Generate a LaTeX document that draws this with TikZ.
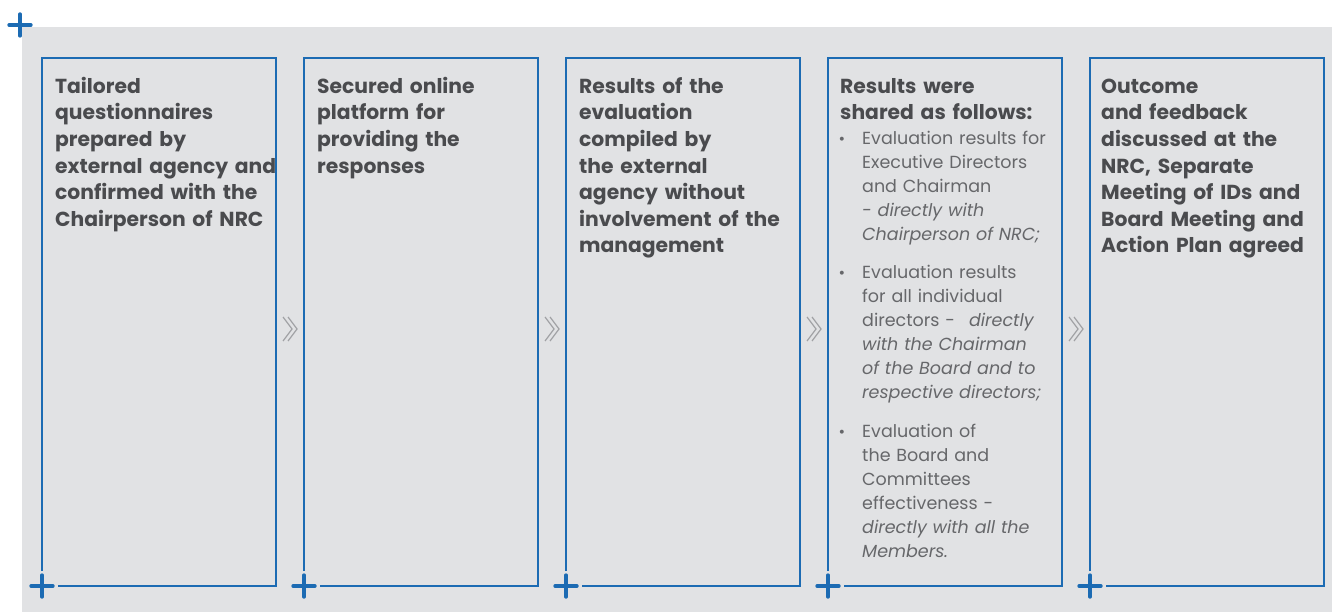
\documentclass[tikz,border=0pt]{standalone}
\usepackage{fontspec}
\setmainfont{Poppins}
\usetikzlibrary{calc}
\definecolor{bggray}{HTML}{E1E2E4}
\definecolor{bblue}{HTML}{1C6BB3}
\definecolor{headtext}{HTML}{4A4B4E}
\definecolor{bodytext}{HTML}{66676A}
\definecolor{chevgray}{HTML}{A0A1A4}
\tikzset{
  panel/.style={minimum width=234pt, minimum height=528pt, inner sep=0pt, outer sep=0pt},
  border/.style={bblue, line width=1.4pt},
  plusmark/.style={bblue, line width=3.8pt, line cap=round},
  chevline/.style={chevgray, line width=1.2pt},
  headtxt/.style={anchor=base west, inner sep=0pt, text width=240pt, align=left,
    text=headtext, font=\fontsize{20.3}{26.6}\selectfont\bfseries},
  bodytxt/.style={anchor=base west, inner sep=0pt, text width=200pt, align=left,
    text=bodytext, font=\fontsize{17.5}{24}\selectfont},
  bullettxt/.style={anchor=base, inner sep=0pt, text=bodytext, font=\fontsize{16}{24}\selectfont}
}
\begin{document}
\begin{tikzpicture}[x=1pt,y=-1pt]
\useasboundingbox (0,0) rectangle (1332,612);
\fill[bggray] (22,27) rectangle (1332,612);
% top-left plus
\coordinate (tl) at (20,25);
\draw[plusmark] ([xshift=-10.8pt]tl) -- ([xshift=10.8pt]tl) ([yshift=-10.8pt]tl) -- ([yshift=10.8pt]tl);
% panels
\foreach \i/\x in {1/159,2/421,3/683,4/945,5/1207}{
  \node[panel] (b\i) at (\x,322) {};
  \draw[border] ([yshift=15pt]b\i.south west) -- (b\i.north west) -- (b\i.north east)
     -- (b\i.south east) -- ([xshift=16pt]b\i.south west);
  \draw[plusmark] ([xshift=-10.8pt]b\i.south west) -- ([xshift=10.8pt]b\i.south west)
     ([yshift=-10.8pt]b\i.south west) -- ([yshift=10.8pt]b\i.south west);
}
% chevrons
\foreach \a/\b in {1/2,2/3,3/4,4/5}{
  \coordinate (c\a) at ($(b\a.east)!0.5!(b\b.west)+(0,7)$);
  \draw[chevline] ([xshift=-7pt,yshift=12pt]c\a) -- ([xshift=2pt]c\a) -- ([xshift=-7pt,yshift=-12pt]c\a);
  \draw[chevline] ([xshift=-2pt,yshift=12pt]c\a) -- ([xshift=7pt]c\a) -- ([xshift=-2pt,yshift=-12pt]c\a);
}
% texts
\node[headtxt] (t1) at (55,93.3) {Tailored\\questionnaires\\prepared by\\external agency and\\confirmed with the\\Chairperson of NRC};
\node[headtxt] (t2) at (317,93.3) {Secured online\\platform for\\providing the\\responses};
\node[headtxt] (t3) at (579,93.3) {Results of the\\evaluation\\compiled by\\the external\\agency without\\involvement of the\\management};
\node[headtxt] (t4) at (840,93.3) {Results were\\shared as follows:};
\node[headtxt] (t5) at (1101,93.3) {Outcome\\and feedback\\discussed at the\\NRC, Separate\\Meeting of IDs and\\Board Meeting and\\Action Plan agreed};
% bullets
\node[bullettxt] (d1) at (842,144.3) {•};
\node[bodytxt] (i1) at (862,144.3) {Evaluation results for\\Executive Directors\\and Chairman\\\textit{- directly with}\\\textit{Chairperson of NRC;}};
\node[bullettxt] (d2) at (842,278) {•};
\node[bodytxt] (i2) at (862,278) {Evaluation results\\for all individual\\directors -\hspace{14pt}\textit{directly}\\\textit{with the Chairman}\\\textit{of the Board and to}\\\textit{respective directors;}};
\node[bullettxt] (d3) at (842,437) {•};
\node[bodytxt] (i3) at (862,437) {Evaluation of\\the Board and\\Committees\\effectiveness -\\\textit{directly with all the}\\\textit{Members.}};
\end{tikzpicture}
\end{document}
